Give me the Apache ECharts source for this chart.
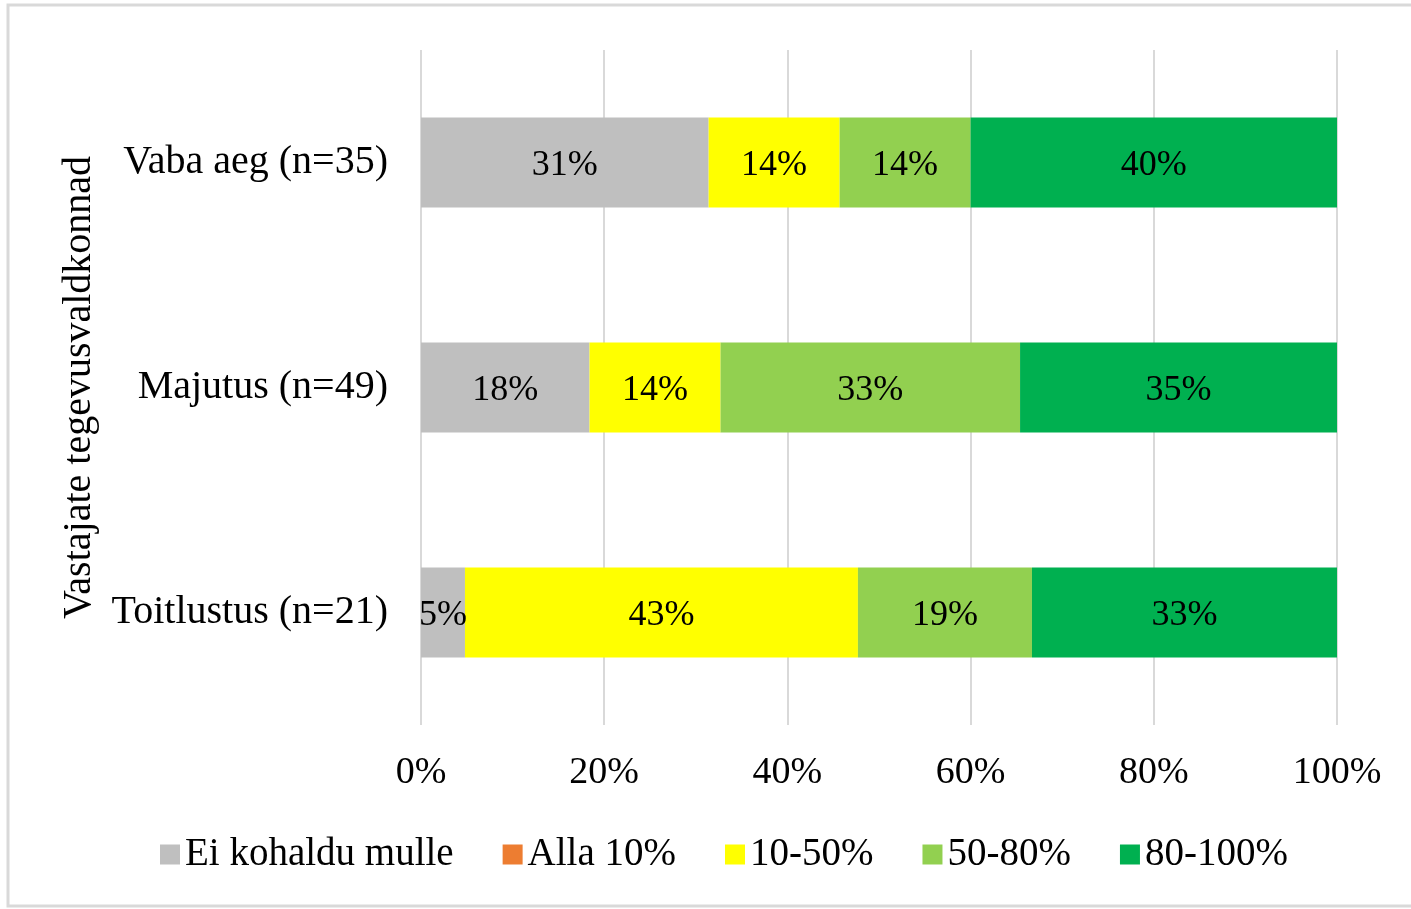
<!DOCTYPE html>
<html>
<head>
<meta charset="utf-8">
<script src="https://cdn.jsdelivr.net/npm/echarts@6/dist/echarts.min.js"></script>
<style>
  html, body { margin: 0; padding: 0; background: #fff; }
  #chart { width: 1411px; height: 909px; }
</style>
</head>
<body>
<div id="chart"></div>
<script>
var categories = ['Toitlustus (n=21)', 'Majutus (n=49)', 'Vaba aeg (n=35)'];
var seriesNames = ['Ei kohaldu mulle', 'Alla 10%', '10-50%', '50-80%', '80-100%'];
var colors = ['#bfbfbf', '#ed7d31', '#ffff00', '#92d050', '#00b050'];

// shares in percent, per category (bottom to top)
var eiKohaldu = [4.8, 18.4, 31.4];
var alla10 = [0, 0, 0];
var p10to50 = [42.9, 14.3, 14.3];
var p50to80 = [19.0, 32.7, 14.3];
var p80to100 = [33.3, 34.7, 40.0];

var xTicks = [0, 20, 40, 60, 80, 100];

var font = 'Liberation Serif';
var chart = echarts.init(document.getElementById('chart'));

var seriesData = [eiKohaldu, alla10, p10to50, p50to80, p80to100];
var series = seriesData.map(function (vals, i) {
    return {
        name: seriesNames[i],
        type: 'bar',
        stack: 'total',
        barWidth: '40%',
        itemStyle: { color: colors[i] },
        label: {
            show: true,
            position: 'inside',
            offset: [0, 3],
            color: '#000',
            fontFamily: font,
            fontSize: 36,
            formatter: function (p) {
                return p.value > 0 ? Math.round(p.value) + '%' : '';
            }
        },
        emphasis: { disabled: true },
        data: vals
    };
});

chart.setOption({
    animation: false,
    graphic: [{
        type: 'rect',
        shape: { x: 8, y: 5, width: 1420, height: 901 },
        style: { fill: 'none', stroke: '#d9d9d9', lineWidth: 3 },
        silent: true
    }],
    grid: { left: 421, right: 74, top: 50, bottom: 184 },
    legend: {
        left: 155,
        top: 830,
        itemWidth: 20,
        itemHeight: 20,
        itemGap: 49,
        icon: 'rect',
        textStyle: { fontFamily: font, fontSize: 39, color: '#000' },
        data: seriesNames
    },
    xAxis: {
        type: 'value',
        min: xTicks[0],
        max: xTicks[xTicks.length - 1],
        interval: 20,
        axisLine: { show: false },
        axisTick: { show: false },
        splitLine: { lineStyle: { color: '#d9d9d9', width: 2 } },
        axisLabel: {
            margin: 29,
            color: '#000',
            fontFamily: font,
            fontSize: 38,
            formatter: '{value}%'
        }
    },
    yAxis: {
        type: 'category',
        data: categories,
        name: 'Vastajate tegevusvaldkonnad',
        nameLocation: 'middle',
        nameGap: 322,
        nameTextStyle: { fontFamily: font, fontSize: 40, color: '#000' },
        axisLine: { show: false },
        axisTick: { show: false },
        axisLabel: {
            margin: 33,
            color: '#000',
            fontFamily: font,
            fontSize: 40
        }
    },
    series: series
});
</script>
</body>
</html>
